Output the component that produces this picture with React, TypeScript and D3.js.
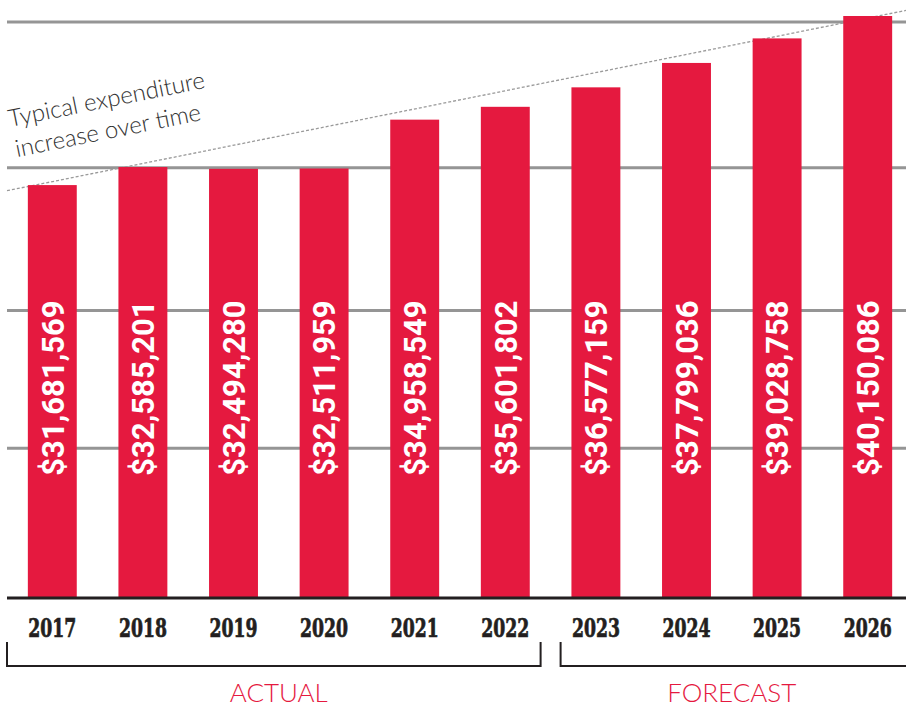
import * as d3 from "d3";

const YEARS = ["2017", "2018", "2019", "2020", "2021", "2022", "2023", "2024", "2025", "2026"];
const EXPENDITURE = [
  31681569, 32585201, 32494280, 32511959, 34958549, 35601802, 36577159, 37799036, 39028758, 40150086,
];
const GRID_VALUES = [18.5e6, 25.4e6, 32.55e6, 39.85e6];
// trend line value at the left and right edges of the plot
const TREND_VALUES = [31.4e6, 40.5e6];
const GROUPS = [
  { label: "ACTUAL", from: "2017", to: "2022" },
  { label: "FORECAST", from: "2023", to: "2026" },
];
const NOTE_LINES = ["Typical expenditure", "increase over time"];

const WIDTH = 906;
const HEIGHT = 706;
const LEFT = 7;
const RIGHT = 913;
const BASE = 598;
const RED = "#e5193f";

const fmt = d3.format("$,");

export default function App() {
  const x = d3
    .scaleBand<string>()
    .domain(YEARS)
    .range([LEFT, RIGHT])
    .paddingInner(0.46)
    .paddingOuter(0.23);

  const y = d3.scaleLinear().domain([11e6, 40e6]).range([BASE, 19]);

  const step = x.step();
  const angle = (Math.atan2(y(TREND_VALUES[0]) - y(TREND_VALUES[1]), RIGHT - LEFT) * 180) / Math.PI;

  return (
    <div style={{ position: "fixed", left: 0, top: 0, background: "#fff" }}>
      <svg width={WIDTH} height={HEIGHT} viewBox={`0 0 ${WIDTH} ${HEIGHT}`}>
        {/* grid */}
        {GRID_VALUES.map((v) => (
          <line key={v} x1={LEFT} x2={WIDTH} y1={y(v)} y2={y(v)} stroke="#959595" strokeWidth={3} />
        ))}

        {/* trend line */}
        <line
          x1={LEFT}
          x2={RIGHT}
          y1={y(TREND_VALUES[0])}
          y2={y(TREND_VALUES[1])}
          stroke="#9a9a9a"
          strokeWidth={1.3}
          strokeDasharray="3 2"
        />
        <g transform={`translate(10,127) rotate(${-angle})`}>
          {NOTE_LINES.map((t, i) => (
            <text
              key={t}
              x={i * 1}
              y={i * 31}
              fontFamily="Lato, 'Open Sans', sans-serif"
              fontWeight={300}
              fontSize={24}
              fill="#333"
            >
              {t}
            </text>
          ))}
        </g>

        {/* bars */}
        {YEARS.map((yr, i) => {
          const bx = x(yr)!;
          return (
            <g key={yr}>
              <rect x={bx} y={y(EXPENDITURE[i])} width={x.bandwidth()} height={BASE - y(EXPENDITURE[i])} fill={RED} />
              <text
                transform={`translate(${bx + x.bandwidth() / 2 + 11.3},388) rotate(-90)`}
                textAnchor="middle"
                fontFamily="Roboto, 'Liberation Sans', sans-serif"
                fontWeight={700}
                fontSize={31}
                fill="#fff"
              >
                {fmt(EXPENDITURE[i])}
              </text>
            </g>
          );
        })}

        {/* baseline */}
        <line x1={LEFT} x2={WIDTH} y1={BASE} y2={BASE} stroke="#231f20" strokeWidth={3} />

        {/* year labels */}
        {YEARS.map((yr) => (
          <text
            key={yr}
            x={x(yr)! + x.bandwidth() / 2}
            y={637}
            textAnchor="middle"
            fontFamily="'DejaVu Serif Condensed', 'DejaVu Serif', serif"
            fontStretch="condensed"
            fontWeight={700}
            fontSize={26}
            textLength={48}
            lengthAdjust="spacingAndGlyphs"
            fill="#231f20"
            stroke="#231f20"
            strokeWidth={0.7}
          >
            {yr}
          </text>
        ))}

        {/* group brackets */}
        {GROUPS.map((g, gi) => {
          const x0 = gi === 0 ? LEFT : x(g.from)! - (step - x.bandwidth()) / 2 + 10;
          const x1 = gi === GROUPS.length - 1 ? RIGHT : x(g.to)! + x.bandwidth() + (step - x.bandwidth()) / 2 - 10;
          const path = d3.path();
          path.moveTo(x0, 642);
          path.lineTo(x0, 666);
          path.lineTo(x1, 666);
          if (gi !== GROUPS.length - 1) path.lineTo(x1, 642);
          const cx = (x(g.from)! + x(g.to)! + x.bandwidth()) / 2;
          return (
            <g key={g.label}>
              <path d={path.toString()} fill="none" stroke="#231f20" strokeWidth={2} />
              <text
                x={cx}
                y={702}
                textAnchor="middle"
                fontFamily="Lato, 'Open Sans', sans-serif"
                fontWeight={300}
                fontSize={26}
                fill={RED}
              >
                {g.label}
              </text>
            </g>
          );
        })}
      </svg>
    </div>
  );
}
